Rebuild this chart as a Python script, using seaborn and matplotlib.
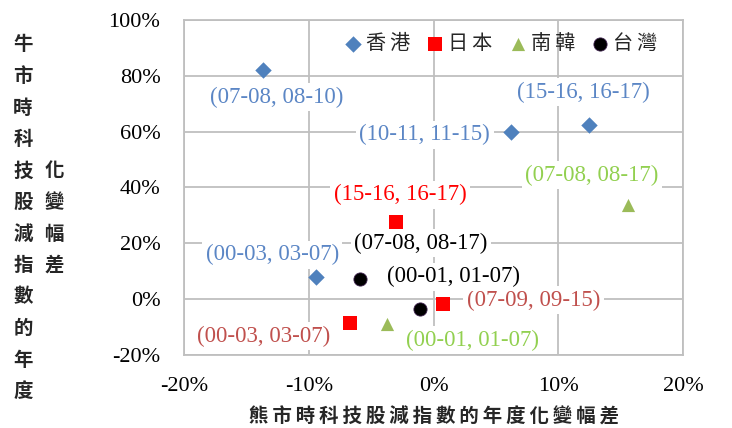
import matplotlib
matplotlib.use("Agg")
import matplotlib.pyplot as plt
import seaborn as sns
import pandas as pd
from matplotlib.ticker import FuncFormatter, MultipleLocator

# Annual change gap of tech-stock-minus-index: bear market (x) vs bull market (y)
markets = ["香港", "香港", "香港", "香港",
           "日本", "日本", "日本",
           "南韓", "南韓",
           "台灣", "台灣"]
periods = ["(07-08, 08-10)", "(10-11, 11-15)", "(15-16, 16-17)", "(00-03, 03-07)",
           "(15-16, 16-17)", "(07-09, 09-15)", "(00-03, 03-07)",
           "(07-08, 08-17)", "(00-01, 01-07)",
           "(07-08, 08-17)", "(00-01, 01-07)"]
bear_gap = [-13.7, 6.2, 12.5, -9.4,
            -3.0, 0.8, -6.7,
            15.6, -3.7,
            -5.9, -1.1]
bull_gap = [82.0, 60.0, 62.3, 8.0,
            27.7, -1.9, -8.7,
            33.6, -9.0,
            7.2, -3.5]
label_colors = ["#5B86C5", "#5B86C5", "#5B86C5", "#5B86C5",
                "#FF0000", "#C0504D", "#C0504D",
                "#92D050", "#92D050",
                "#000000", "#000000"]
# label offsets from each point, in pixels
label_dx = [14, -86, -6, -44, 4, 90, -86, -36, 85, 61, 34]
label_dy = [-27, -3, 33, 22, 27, 4, -13, 30, -16, 36, 32]

market_order = ["香港", "日本", "南韓", "台灣"]
palette = {"香港": "#4F81BD", "日本": "#FF0000", "南韓": "#9BBB59", "台灣": "#000000"}
marker_map = {"香港": "D", "日本": "s", "南韓": "^", "台灣": "o"}

df = pd.DataFrame({"market": markets, "period": periods,
                   "x": bear_gap, "y": bull_gap})

sns.set_theme(style="white")
plt.rcParams["font.family"] = ["Liberation Serif", "Noto Sans CJK TC"]

fig = plt.figure(figsize=(7.32, 4.28), dpi=100)
ax = fig.add_axes([184 / 732, 1 - 355 / 428, (683 - 184) / 732, (355 - 20) / 428])

sizes = {"香港": 70, "日本": 95, "南韓": 90, "台灣": 90}
for m in market_order:
    sub = df[df["market"] == m]
    sns.scatterplot(data=sub, x="x", y="y", ax=ax, color=palette[m],
                    marker=marker_map[m], s=sizes[m], linewidth=0.6 if m == "台灣" else 0,
                    edgecolor="#3A1F4A" if m == "台灣" else palette[m],
                    label=m, zorder=4)

for i in range(len(df)):
    ax.annotate(periods[i], xy=(bear_gap[i], bull_gap[i]),
                xytext=(label_dx[i], label_dy[i]), textcoords="offset pixels",
                ha="center", va="center", fontsize=16.5, color=label_colors[i],
                family="Liberation Serif", zorder=3,
                bbox=dict(facecolor="white", edgecolor="none", pad=2.5))

ax.set_xlim(-20, 20)
ax.set_ylim(-20, 100)
ax.xaxis.set_major_locator(MultipleLocator(10))
ax.yaxis.set_major_locator(MultipleLocator(20))
pct = FuncFormatter(lambda v, _: f"{v:.0f}%")
ax.xaxis.set_major_formatter(pct)
ax.yaxis.set_major_formatter(pct)
ax.tick_params(axis="both", length=0, labelsize=16, colors="black")
ax.tick_params(axis="x", pad=16)
ax.tick_params(axis="y", pad=17)
for t in ax.get_xticklabels() + ax.get_yticklabels():
    t.set_family("Liberation Serif")
ax.grid(True, color="#BFBFBF", linewidth=1.3, zorder=0)
ax.set_axisbelow(True)
for sp in ax.spines.values():
    sp.set_color("#BFBFBF")
    sp.set_linewidth(1.3)
ax.set_xlabel("")
ax.set_ylabel("")

handles, labels = ax.get_legend_handles_labels()
leg = ax.legend(handles, ["\u2009".join(l) for l in labels], ncol=4, frameon=False,
                loc="upper right", bbox_to_anchor=(0.975, 1.0),
                handletextpad=0.1, columnspacing=0.7, handlelength=1.1,
                borderaxespad=0.25,
                prop={"family": ["Noto Sans CJK TC", "DejaVu Sans"], "size": 14.5})

# x-axis title
xtitle = "熊市時科技股減指數的年度化變幅差"
fig.text(434 / 732, 1 - 417 / 428, "\u2009".join(xtitle), ha="center", va="center",
         fontsize=14, fontweight="bold",
         family=["Noto Sans CJK TC", "DejaVu Sans"])

# y-axis title, stacked vertically in two columns
ytitle_col1 = "牛市時科技股減指數的年度"
ytitle_col2 = "化變幅差"
for i, ch in enumerate(ytitle_col1):
    fig.text(23 / 732, 1 - (45 + i * 31.5) / 428, ch, ha="center", va="center",
             fontsize=14, fontweight="bold", family="Noto Sans CJK TC")
for i, ch in enumerate(ytitle_col2):
    fig.text(54 / 732, 1 - (45 + (i + 4) * 31.5) / 428, ch, ha="center", va="center",
             fontsize=14, fontweight="bold", family="Noto Sans CJK TC")

fig.savefig("out.png", dpi=100)
